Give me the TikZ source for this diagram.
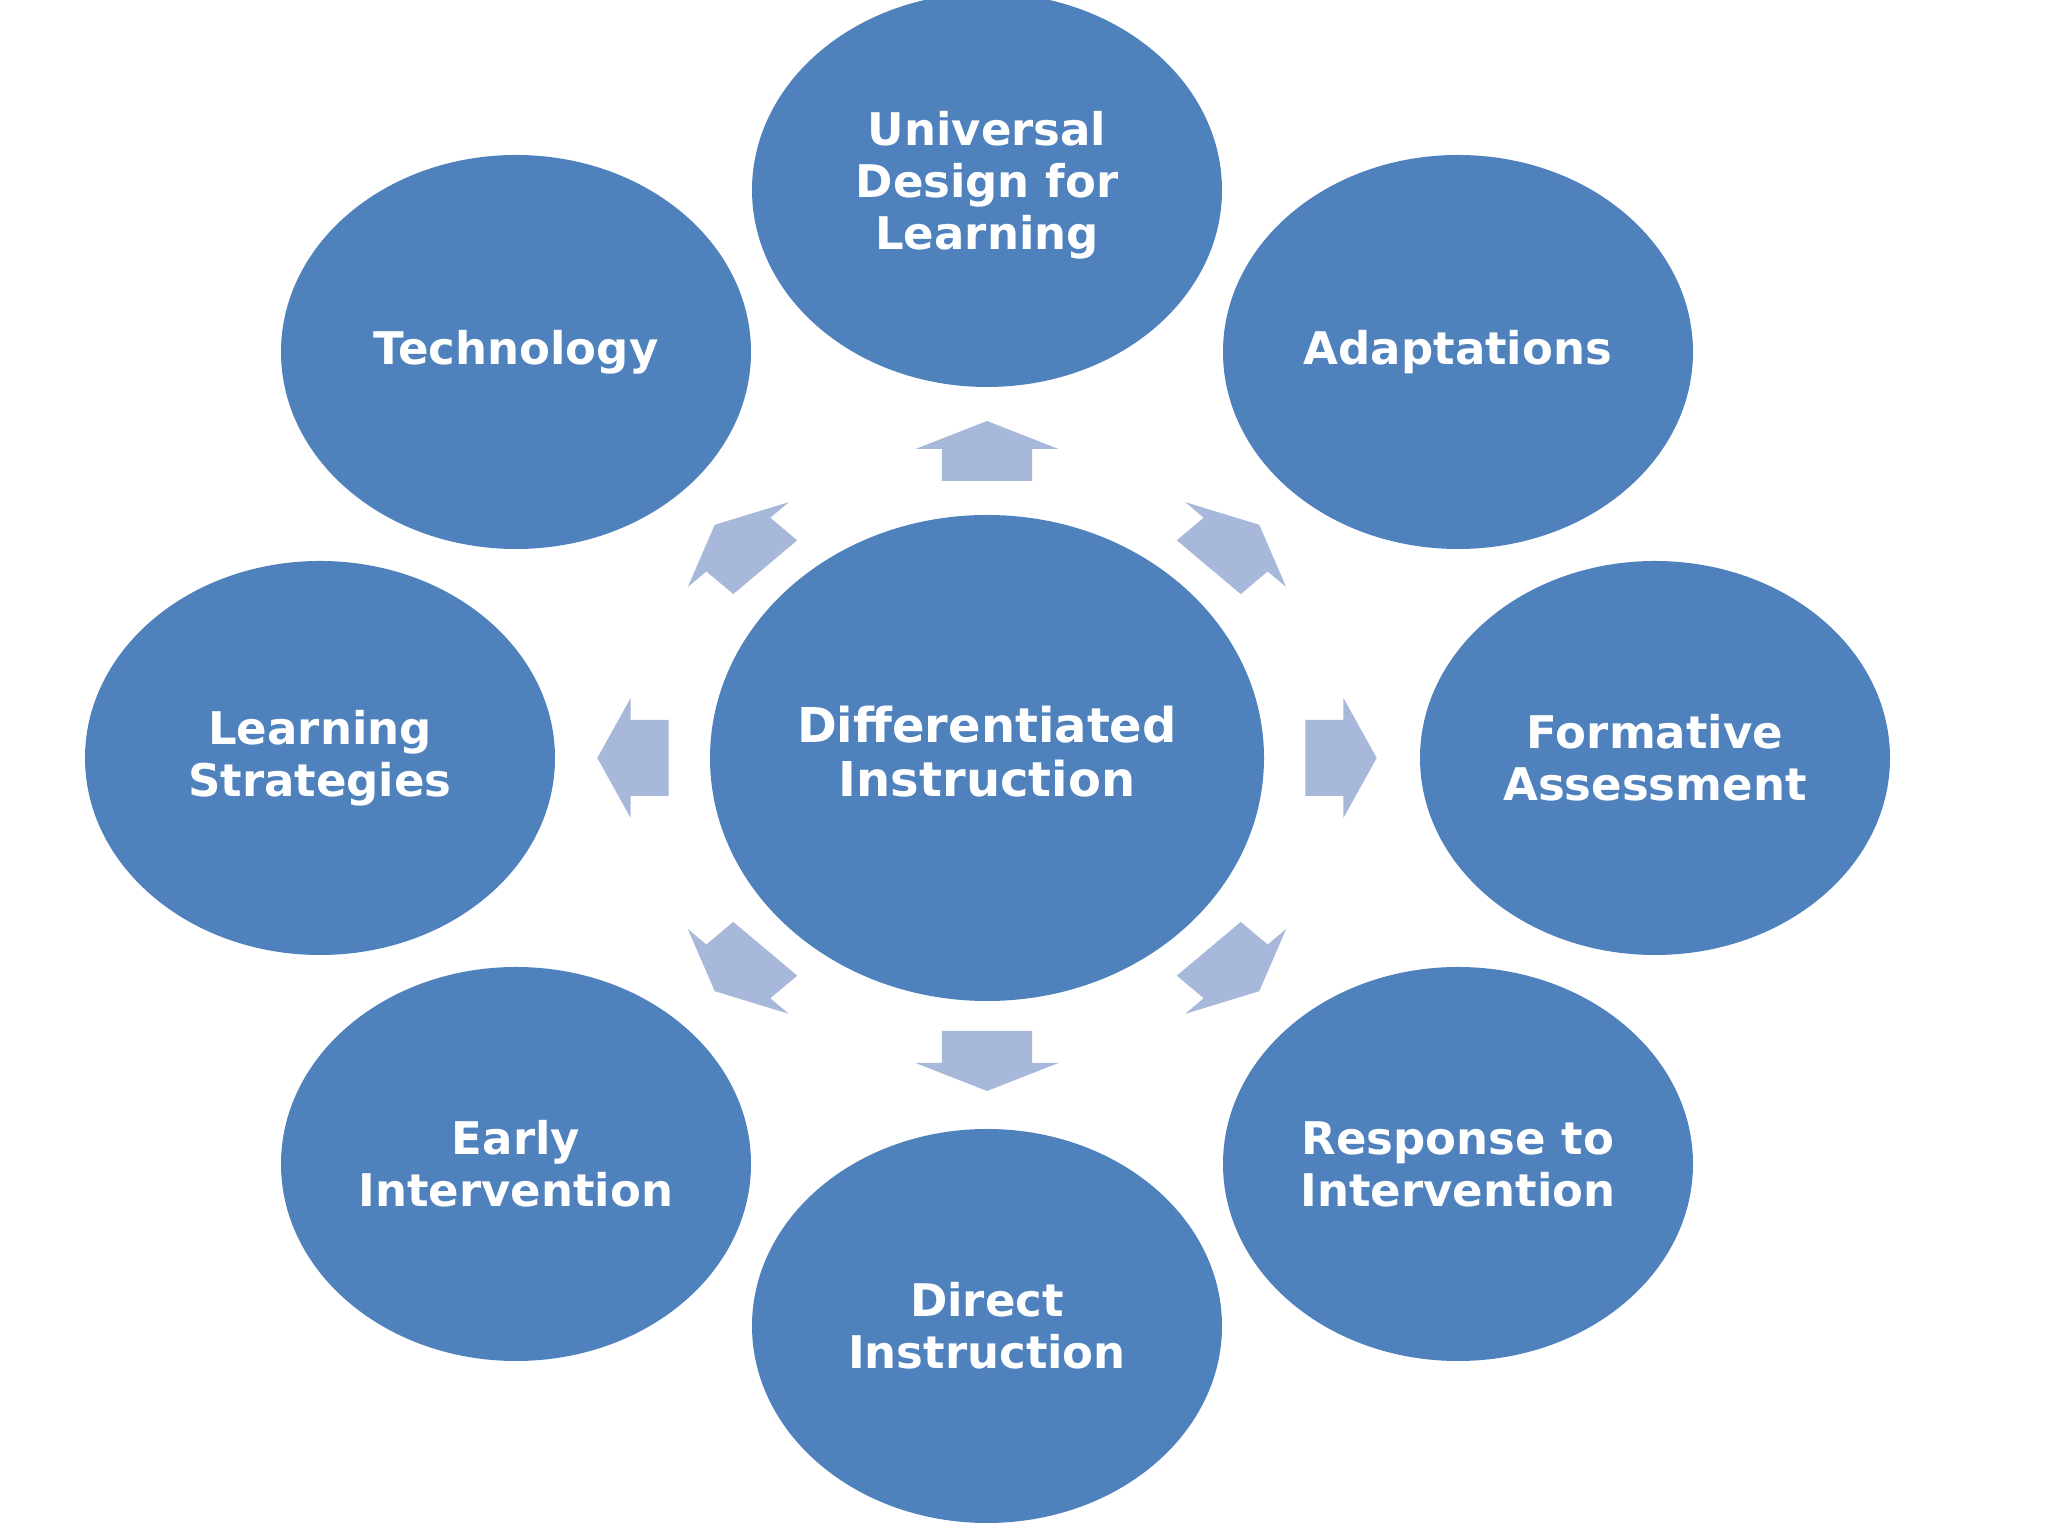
\documentclass[tikz,border=0pt]{standalone}
\usepackage{fontspec}
\setmainfont{DejaVu Sans}
\usetikzlibrary{shapes.geometric}
\definecolor{circblue}{HTML}{4F81BD}
\definecolor{arrowblue}{HTML}{A8B8DA}
\begin{document}
\begin{tikzpicture}[x=1pt,y=1pt,
  bubble/.style={ellipse, fill=circblue, draw=none, minimum width=470, minimum height=394,
    inner sep=0pt, text=white, font=\bfseries\fontsize{45}{52}\selectfont, align=center},
  hub/.style={bubble, minimum width=554, minimum height=486, font=\bfseries\fontsize{48}{54}\selectfont},
  blockarrow/.pic={\fill[arrowblue] (-30,-38) -- (2,-38) -- (2,-60) -- (30,0) -- (2,60) -- (2,38) -- (-30,38) -- cycle;}
]
\useasboundingbox (0,0) rectangle (2048,1536);
\fill[white] (0,0) rectangle (2048,1536);
\clip (0,0) rectangle (2048,1536);

\node[hub]    (di)   at (987,778)  {};
\node[font=\bfseries\fontsize{48}{54}\selectfont, text=white, align=center] (dit) at (987,784) {Differentiated\\Instruction};
\node[bubble] (udl)  at (987,1346) {};
\node[font=\bfseries\fontsize{45}{52}\selectfont, text=white, align=center] (udlt) at (987,1351) {Universal\\Design for\\Learning};
\node[bubble] (tech) at (516,1184) {Technology};
\node[bubble] (adap) at (1458,1184) {Adaptations};
\node[bubble] (ls)   at (320,778)  {Learning\\Strategies};
\node[bubble] (fa)   at (1655,778) {Formative\\Assessment};
\node[bubble] (ei)   at (516,372)  {Early\\Intervention};
\node[bubble] (rti)  at (1458,372) {Response to\\Intervention};
\node[bubble] (dir)  at (987,210)  {Direct\\Instruction};

\pic[xscale=1.19, rotate=90]   at (987,1085) {blockarrow};
\pic[xscale=1.19, rotate=-90]  at (987,475)  {blockarrow};
\pic[xscale=1.19, rotate=180]  at (633,778)  {blockarrow};
\pic[xscale=1.19, rotate=0]    at (1341,778) {blockarrow};
\pic[xscale=1.19, rotate=135]  at (740,990)  {blockarrow};
\pic[xscale=1.19, rotate=45]   at (1234,990) {blockarrow};
\pic[xscale=1.19, rotate=-135] at (740,566)  {blockarrow};
\pic[xscale=1.19, rotate=-45]  at (1234,566) {blockarrow};
\end{tikzpicture}
\end{document}
